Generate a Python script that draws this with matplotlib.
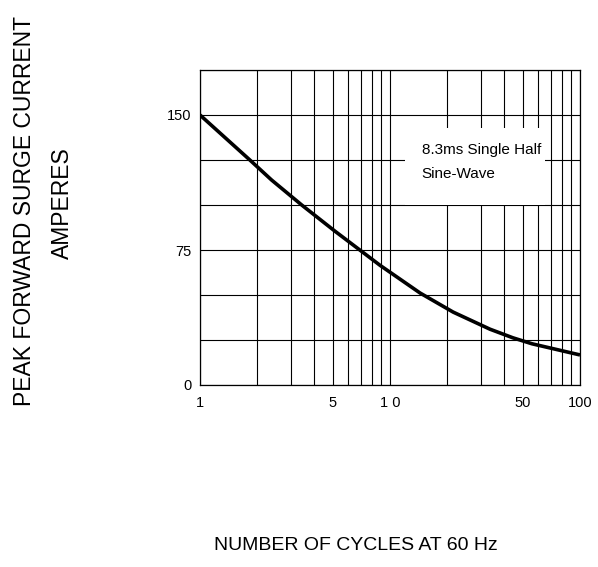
import matplotlib
matplotlib.use("Agg")
import matplotlib.pyplot as plt
from matplotlib.patches import Rectangle

cycles = [1, 1.83, 2.38, 3.43, 5.14, 8.86, 14.4, 21.5, 33.6, 44.4, 55.9, 100]
current = [150, 125, 113.9, 100, 85.4, 66.5, 51.1, 40.5, 31.0, 26.2, 22.9, 16.7]
xtick_vals = [1, 5, 10, 50, 100]
xtick_labels = ["1", "5", "1 0", "50", "100"]
ytick_vals = [0, 25, 50, 75, 100, 125, 150, 175]
ytick_labels = ["0", "", "", "75", "", "", "150", ""]

plt.rcParams['font.family'] = ['Liberation Sans', 'DejaVu Sans']
fig = plt.figure(figsize=(5.98, 5.67), dpi=100)
ax = fig.add_axes([200/598, 1-385/567, 380/598, 315/567])
ax.set_xscale('log')
ax.set_xlim(1, 100)
ax.set_ylim(0, 175)
ax.set_xticks(xtick_vals)
ax.set_xticklabels(xtick_labels)
ax.set_xticks([2, 3, 4, 6, 7, 8, 9, 20, 30, 40, 60, 70, 80, 90], minor=True)
ax.xaxis.set_minor_formatter(plt.NullFormatter())
ax.set_yticks(ytick_vals)
ax.set_yticklabels(ytick_labels)
ax.tick_params(which='both', length=0, labelsize=10.5)
ax.tick_params(axis='x', pad=8)
ax.tick_params(axis='y', pad=6)
ax.grid(True, which='both', color='black', lw=0.8)
for s in ax.spines.values():
    s.set_linewidth(0.9)
ax.set_axisbelow(True)

ax.add_patch(Rectangle((12.0, 100), 65.4 - 12.0, 142.8 - 100, facecolor='white',
                       edgecolor='none', zorder=1.5))
ax.plot(cycles, current, color='black', lw=2.6, zorder=3,
        solid_capstyle='butt', solid_joinstyle='round')
ax.text(14.7, 130.6, "8.3ms Single Half", fontsize=11, va='center', ha='left', zorder=4)
ax.text(14.7, 117.2, "Sine-Wave", fontsize=11, va='center', ha='left', zorder=4)

fig.text(25/598, 1-211/567, "PEAK FORWARD SURGE CURRENT", rotation=90,
         ha='center', va='center', fontsize=16.5)
fig.text(62/598, 1-203/567, "AMPERES", rotation=90, ha='center', va='center', fontsize=16.5)
fig.text(356/598, 1-545/567, "NUMBER OF CYCLES AT 60 Hz",
         ha='center', va='center', fontsize=14)
fig.savefig("out.png", dpi=100)
